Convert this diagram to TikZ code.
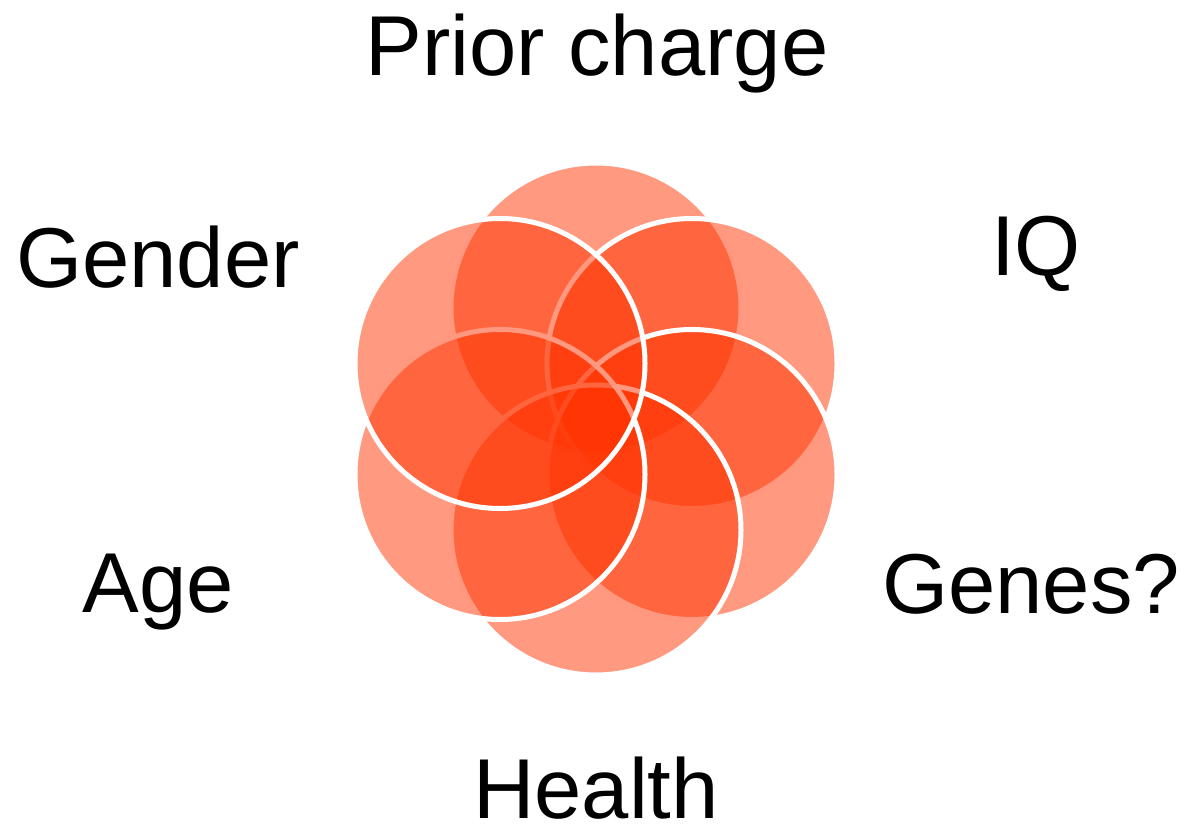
\documentclass[tikz,border=0pt]{standalone}
\usepackage{fontspec}
\setmainfont{Liberation Sans}
\definecolor{petalred}{HTML}{FF3300}
\begin{document}
\begin{tikzpicture}[x=1pt,y=-1pt,
  petal/.style={circle, inner sep=0pt, outer sep=0pt, minimum size=290pt,
    fill=petalred, fill opacity=0.5, draw=white, line width=5pt},
  lbl/.style={anchor=base, inner sep=0pt, font=\fontsize{85}{100}\selectfont}]
\useasboundingbox (0,0) rectangle (1186,832);
% circles, drawn in this order
\node[petal] (ptop) at (596,308) {};
\node[petal] (pur)  at (692,363.5) {};
\node[petal] (plr)  at (692,474.5) {};
\node[petal] (pbot) at (596,530) {};
\node[petal] (pll)  at (500,474.5) {};
\node[petal] (pul)  at (500,363.5) {};
% labels
\node[lbl] (prior)  at (597,76)  {Prior charge};
\node[lbl] (gender) at (158,287) {Gender};
\node[lbl] (iq)     at (1036,275) {IQ};
\node[lbl] (age)    at (158,612) {Age};
\node[lbl] (genes)  at (1031,613) {Genes?};
\node[lbl] (health) at (596,818) {Health};
\end{tikzpicture}
\end{document}
